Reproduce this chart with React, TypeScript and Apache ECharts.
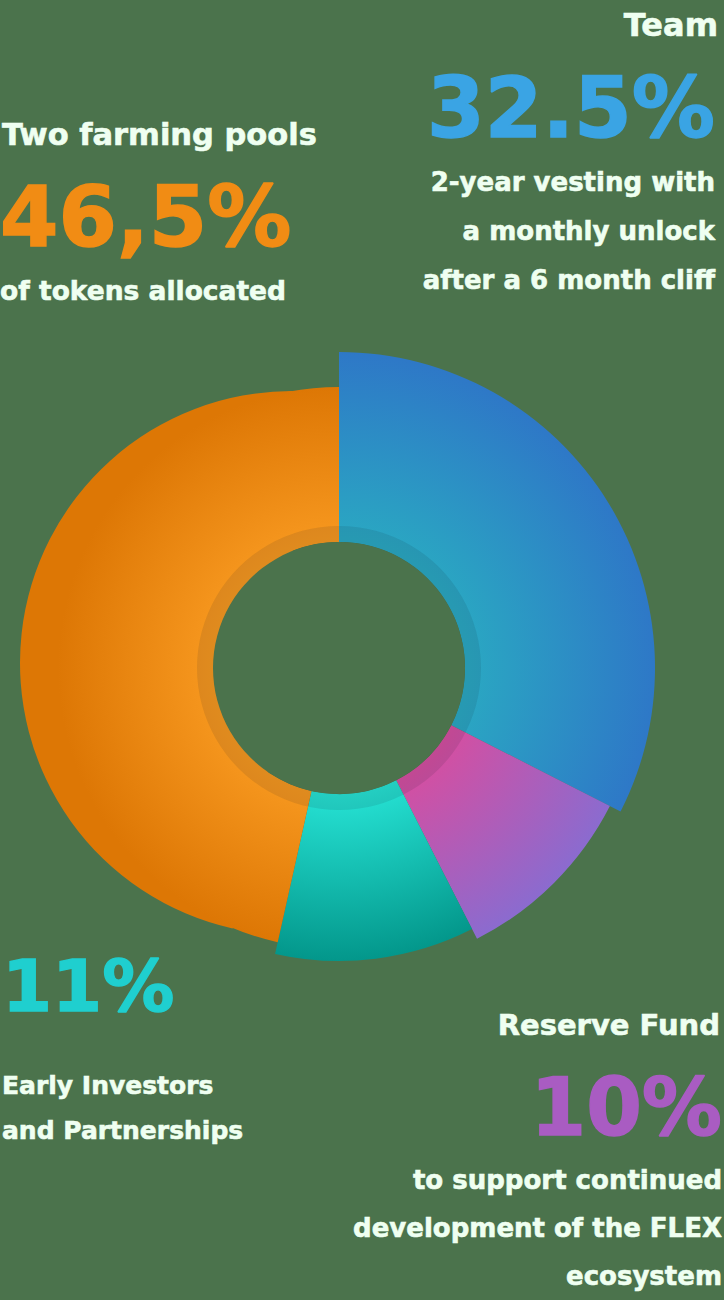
import React, { useEffect, useRef } from 'react';
import * as echarts from 'echarts';

// ---------- data ----------
const categories = ['Team', 'Reserve Fund', 'Early Investors and Partnerships', 'Two farming pools'];
const shares = [32.5, 10, 11, 46.5];
const shareLabels = ['32.5%', '10%', '11%', '46,5%'];
const teamNote = ['2-year vesting with', 'a monthly unlock', 'after a 6 month cliff'];
const reserveNote = ['to support continued', 'development of the FLEX', 'ecosystem'];
const investorsNote = ['Early Investors', 'and Partnerships'];
const farmingNote = ['of tokens allocated'];

// ---------- styles ----------
const BG = '#4b734c';
const WHITE = '#effff1';
const CENTER: [number, number] = [339, 668];
const INNER = 126;
const RING = 142;
const outerRadius = [316, 304, 293, 281];
// the farming-pools slice bulges out to the left in the original artwork
const BULGE_CENTER: [number, number] = [292, 663];
const BULGE_RADIUS = 272;
const sliceColors = [
  ['#2aa8c2', '#2e78c7'],
  ['#d64ea0', '#8b6bcf'],
  ['#26e2d4', '#03978b'],
  ['#f7981f', '#dd7705'],
];
const numberColors = ['#3aa4e4', '#a95cc2', '#1fcfcf', '#f18c14'];
const FONT = '"DejaVu Sans", "Liberation Sans", sans-serif';
const f = (s: number) => `bold ${s}px ${FONT}`;

function txt(text: string, x: number, y: number, size: number, align: string, fill: string = WHITE, stroke = 0.6) {
  return {
    type: 'text',
    x, y,
    silent: true,
    style: {
      text, fill, font: f(size),
      stroke: fill, lineWidth: stroke,
      align, textAlign: align,
      verticalAlign: 'middle', textVerticalAlign: 'middle',
    },
  };
}

function sliceGradient(k: number) {
  return {
    type: 'radial', x: CENTER[0], y: CENTER[1], r: outerRadius[k], global: true,
    colorStops: [
      { offset: INNER / outerRadius[k], color: sliceColors[k][0] },
      { offset: 1, color: sliceColors[k][1] },
    ],
  };
}

function pieFor(k: number, center: [number, number], radius: [number, number], z: number) {
  return {
    type: 'pie',
    name: categories[k],
    center,
    radius,
    startAngle: 90,
    clockwise: true,
    silent: true,
    label: { show: false },
    labelLine: { show: false },
    emphasis: { disabled: true },
    z,
    data: categories.map((name, i) => ({
      name,
      value: shares[i],
      itemStyle: i === k ? { color: sliceGradient(k) } : { color: 'rgba(0,0,0,0)' },
    })),
  };
}

function plainRing(radius: [number, number], color: string, z: number) {
  return {
    type: 'pie',
    center: CENTER,
    radius,
    silent: true,
    label: { show: false },
    labelLine: { show: false },
    emphasis: { disabled: true },
    z,
    data: [{ value: 1, itemStyle: { color } }],
  };
}

export default function App() {
  const ref = useRef<HTMLDivElement>(null);
  useEffect(() => {
    document.body.style.margin = '0';
    document.body.style.background = BG;
    const chart = echarts.init(ref.current!, undefined, { renderer: 'svg' });

    const series: any[] = [
      pieFor(3, BULGE_CENTER, [0, BULGE_RADIUS], 1),
      ...categories.map((_, k) => pieFor(k, CENTER, [INNER, outerRadius[k]], 2)),
      plainRing([0, INNER], BG, 3),
      plainRing([INNER, RING], 'rgba(20,30,40,0.10)', 4),
    ];

    const graphic: any[] = [
      // Team
      txt(categories[0], 718, 25, 32, 'right'),
      txt(shareLabels[0], 715, 108, 83, 'right', numberColors[0], 1.5),
      ...teamNote.map((t, i) => txt(t, 715, 182 + i * 49, 26, 'right')),
      // Farming
      txt(categories[3], 2, 134, 30.5, 'left'),
      txt(shareLabels[3], 0, 217, 84, 'left', numberColors[3], 1.5),
      ...farmingNote.map((t, i) => txt(t, 0, 290 + i * 46, 26.5, 'left')),
      // Investors
      txt(shareLabels[2], 2, 986, 72, 'left', numberColors[2], 1.5),
      ...investorsNote.map((t, i) => txt(t, 2, 1085 + i * 45, 25, 'left')),
      // Reserve
      txt(categories[1], 720, 1025, 29, 'right'),
      txt(shareLabels[1], 722, 1107, 80, 'right', numberColors[1], 1.5),
      ...reserveNote.map((t, i) => txt(t, 722, 1180 + i * 48, 26, 'right')),
    ];

    chart.setOption({
      animation: false,
      backgroundColor: BG,
      series,
      graphic,
    });
    return () => chart.dispose();
  }, []);
  return <div ref={ref} style={{ width: 724, height: 1300 }} />;
}
